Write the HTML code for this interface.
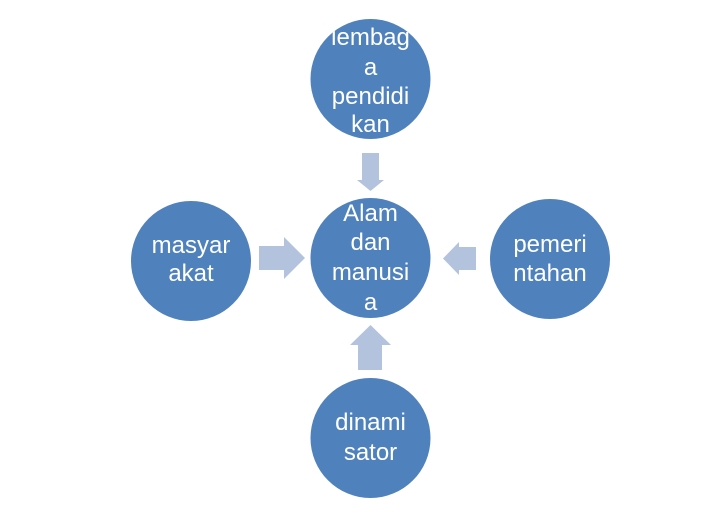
<!DOCTYPE html>
<html><head><style>body{margin:0;background:#fff}svg{display:block}</style></head><body>
<svg width="726" height="516" viewBox="0 0 726 516" xmlns="http://www.w3.org/2000/svg" font-family="Liberation Sans, sans-serif" font-size="24" fill="#fff" text-anchor="middle">
<defs><clipPath id="ct"><circle cx="370.5" cy="79" r="60"/></clipPath></defs>
<g fill="#4F81BD">
<circle cx="370.5" cy="79" r="60"/>
<circle cx="370.5" cy="258" r="60"/>
<circle cx="191" cy="261" r="60"/>
<circle cx="550" cy="259" r="60"/>
<circle cx="370.5" cy="438" r="60"/>
</g>
<g fill="#B3C3DD">
<polygon points="362,153 379,153 379,180 384,180 370.5,191 357,180 362,180"/>
<polygon points="476,247 476,270 459,270 459,275 443,258.5 459,242 459,247"/>
<polygon points="358,370 382,370 382,345 391,345 370.5,325 350,345 358,345"/>
<polygon points="259,246 284,246 284,237 305,258 284,279 284,270 259,270"/>
</g>
<g clip-path="url(#ct)">
<text x="370.5" y="45">lembag</text>
</g>
<text x="370.5" y="75">a</text>
<text x="370.5" y="104">pendidi</text>
<text x="370.5" y="132">kan</text>
<text x="370.5" y="221">Alam</text>
<text x="370.5" y="250">dan</text>
<text x="370.5" y="280">manusi</text>
<text x="370.5" y="310">a</text>
<text x="191" y="253">masyar</text>
<text x="191" y="281">akat</text>
<text x="550" y="252">pemeri</text>
<text x="550" y="281">ntahan</text>
<text x="370.5" y="430">dinami</text>
<text x="370.5" y="460">sator</text>
</svg>
</body></html>
